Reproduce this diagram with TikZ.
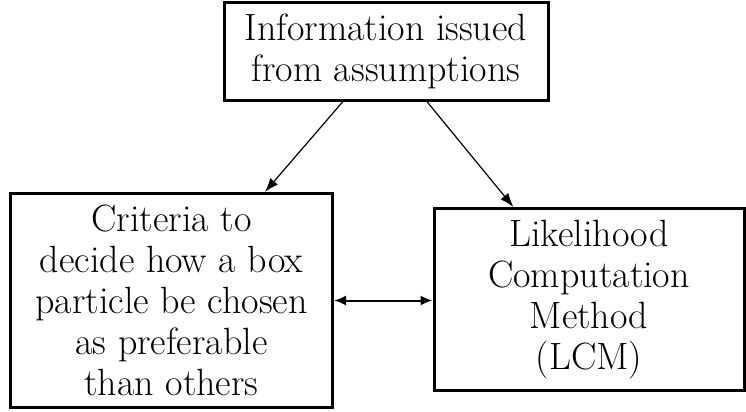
\documentclass[tikz,border=0pt]{standalone}
\usepackage{tikz}
\usetikzlibrary{arrows.meta}
\newcommand{\boxwidth}{1.5pt}
\newcommand{\arrowwidth}{0.6pt}
\tikzset{
  idea/.style={draw, line width=\boxwidth, align=center, inner sep=0pt,
    font=\fontsize{19}{20.5}\selectfont},
  link/.style={line width=\arrowwidth, -{Latex[length=7pt,width=5pt]}},
}

\begin{document}
\begin{tikzpicture}[x=0.5pt, y=-0.5pt]
\useasboundingbox (0,0) rectangle (746,412);
\node[idea, minimum width=162pt, minimum height=49pt] (1) at (386, 51.5) {Information issued\\from assumptions};
\node[idea, minimum width=161pt, minimum height=107pt] (2) at (171.5, 300.5) {Criteria to\\decide how a box\\particle be chosen\\as preferable\\than others};
\node[idea, minimum width=155pt, minimum height=91pt] (3) at (589, 299.5) {Likelihood\\Computation\\Method\\(LCM)};
\draw[link] (1) -- (2);
\draw[link] (1) -- (3);
\draw[link, line width=1pt, {Latex[length=6pt,width=5pt]}-{Latex[length=6pt,width=5pt]}] (2.east) -- (2.east -| 3.west);
\end{tikzpicture}
\end{document}
